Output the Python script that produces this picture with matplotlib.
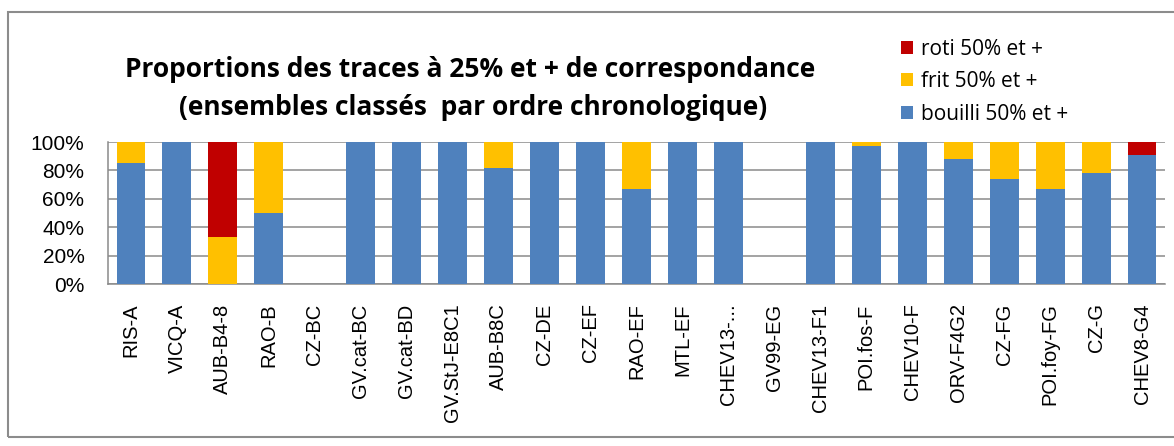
import matplotlib.pyplot as plt
import numpy as np
from matplotlib.patches import Rectangle
from matplotlib.ticker import PercentFormatter

# Ensembles in chronological order
ensembles = ["RIS-A", "VICQ-A", "AUB-B4-8", "RAO-B", "CZ-BC", "GV.cat-BC",
             "GV.cat-BD", "GV.StJ-E8C1", "AUB-B8C", "CZ-DE", "CZ-EF", "RAO-EF",
             "MTL-EF", "CHEV13-...", "GV99-EG", "CHEV13-F1", "POI.fos-F",
             "CHEV10-F", "ORV-F4G2", "CZ-FG", "POI.foy-FG", "CZ-G", "CHEV8-G4"]

# share of traces (in %)
bouilli = [85, 100, 0, 50, 0, 100, 100, 100, 82, 100, 100, 67,
           100, 100, 0, 100, 97, 100, 88, 74, 67, 78, 91]
frit = [15, 0, 33, 50, 0, 0, 0, 0, 18, 0, 0, 33,
        0, 0, 0, 0, 3, 0, 12, 26, 33, 22, 0]
roti = [0, 0, 67, 0, 0, 0, 0, 0, 0, 0, 0, 0,
        0, 0, 0, 0, 0, 0, 0, 0, 0, 0, 9]

blue = "#4F81BD"
yellow = "#FFC000"
red = "#C00000"
grid_grey = "#8a8a8a"

W, H = 1174, 446
fig = plt.figure(figsize=(W / 100, H / 100), dpi=100)
ax = fig.add_axes([108 / W, 1 - 284 / H, (1165 - 108) / W, 142 / H])

x = np.arange(len(ensembles))
b1 = np.array(bouilli)
b2 = b1 + np.array(frit)
w = 0.63
h_b = ax.bar(x, bouilli, w, color=blue, label="bouilli 50% et +", zorder=3)
h_f = ax.bar(x, frit, w, bottom=b1, color=yellow, label="frit 50% et +", zorder=3)
h_r = ax.bar(x, roti, w, bottom=b2, color=red, label="roti 50% et +", zorder=3)

ax.set_xlim(-0.5, len(ensembles) - 0.5)
ax.set_ylim(0, 100)
ax.set_yticks([0, 20, 40, 60, 80, 100])
ax.yaxis.set_major_formatter(PercentFormatter(decimals=0))
ax.grid(axis="y", color=grid_grey, linewidth=1.1, zorder=0)
ax.set_xticks(x)
ax.set_xticklabels(ensembles, rotation=90, family="Liberation Sans", fontsize=14.5)
for lab in ax.get_yticklabels():
    lab.set_family("Liberation Sans")
    lab.set_fontsize(15)
ax.tick_params(axis="x", length=0, pad=14)
ax.tick_params(axis="y", length=0, pad=17)
for s in ["top", "right"]:
    ax.spines[s].set_visible(False)
for s in ["left", "bottom"]:
    ax.spines[s].set_color(grid_grey)
    ax.spines[s].set_linewidth(1.1)

fig.text(470 / W, 1 - 77 / H,
         "Proportions des traces à 25% et + de correspondance",
         ha="center", va="baseline", family="Open Sans", weight="bold",
         fontsize=19)
fig.text(473 / W, 1 - 115 / H,
         "(ensembles classés  par ordre chronologique)",
         ha="center", va="baseline", family="Open Sans", weight="bold",
         fontsize=19)

fig.legend(handles=[h_r, h_f, h_b], loc="upper left",
           bbox_to_anchor=(882 / W, 1 - 20 / H), frameon=False,
           prop={"family": "Open Sans", "size": 15}, handlelength=0.6,
           handleheight=0.6, handletextpad=0.35, labelspacing=0.55)

# chart frame
fig.patches.append(Rectangle((8 / W, 9 / H), 1.2, (437 - 12) / H,
                             transform=fig.transFigure, fill=False,
                             edgecolor="#8c8c8c", linewidth=1.5))

fig.savefig("out.png", dpi=100)
